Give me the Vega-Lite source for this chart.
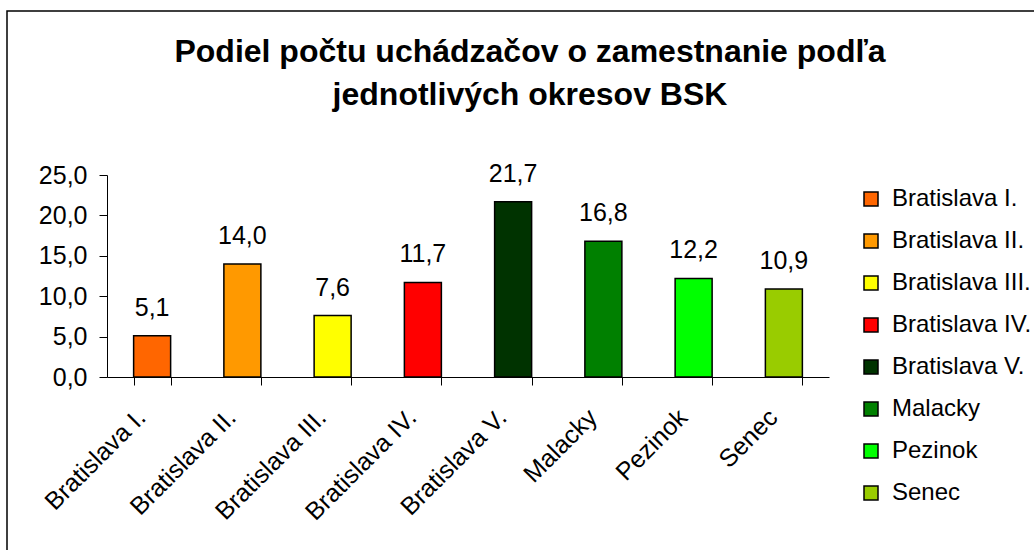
{
  "$schema": "https://vega.github.io/schema/vega-lite/v6.json",
  "width": 1046,
  "height": 545,
  "autosize": {"type": "none"},
  "padding": {"left": 7, "top": 11, "right": 0, "bottom": 0},
  "background": "white",
  "title": {
    "text": ["Podiel počtu uchádzačov o zamestnanie podľa", "jednotlivých okresov BSK"],
    "font": "Liberation Sans",
    "fontWeight": "bold",
    "fontSize": 32,
    "lineHeight": 43,
    "anchor": "middle",
    "frame": "group",
    "offset": -101,
    "color": "black"
  },
  "data": {
    "values": [
      {"okres": "Bratislava I.", "podiel": 5.1},
      {"okres": "Bratislava II.", "podiel": 14.0},
      {"okres": "Bratislava III.", "podiel": 7.6},
      {"okres": "Bratislava IV.", "podiel": 11.7},
      {"okres": "Bratislava V.", "podiel": 21.7},
      {"okres": "Malacky", "podiel": 16.8},
      {"okres": "Pezinok", "podiel": 12.2},
      {"okres": "Senec", "podiel": 10.9}
    ]
  },
  "encoding": {
    "x": {
      "field": "okres",
      "type": "nominal",
      "sort": null,
      "scale": {"range": [100, 822], "paddingInner": 0.59, "paddingOuter": 0.295},
      "axis": {
        "title": null,
        "labelAngle": -45,
        "labelAlign": "right",
        "labelBaseline": "middle",
        "labelFont": "Liberation Sans",
        "labelFontSize": 25,
        "labelColor": "black",
        "tickBand": "extent",
        "tickSize": 8,
        "tickColor": "black",
        "domainColor": "black",
        "labelPadding": 28,
        "labelOffset": -11,
        "offset": -179,
        "grid": false,
        "labelOverlap": false,
        "labelBound": false,
        "labelLimit": 400
      }
    }
  },
  "layer": [
    {
      "mark": {"type": "bar", "stroke": "black", "strokeWidth": 1.5},
      "encoding": {
        "y": {
          "field": "podiel",
          "type": "quantitative",
          "scale": {"domain": [0, 25], "range": [366, 164], "nice": false},
          "axis": {
            "title": null,
            "values": [0, 5, 10, 15, 20, 25],
            "format": ".1f",
            "tickSize": 8,
            "labelPadding": 12,
            "labelFont": "Liberation Sans",
            "labelFontSize": 25,
            "labelColor": "black",
            "tickColor": "black",
            "domainColor": "black",
            "offset": -100,
            "grid": false
          }
        },
        "color": {
          "field": "okres",
          "type": "nominal",
          "sort": null,
          "scale": {
            "domain": ["Bratislava I.", "Bratislava II.", "Bratislava III.", "Bratislava IV.", "Bratislava V.", "Malacky", "Pezinok", "Senec"],
            "range": ["#FF6600", "#FF9900", "#FFFF00", "#FF0000", "#003300", "#008000", "#00FF00", "#99CC00"]
          },
          "legend": {
            "title": null,
            "orient": "none",
            "legendX": 852,
            "legendY": 176,
            "symbolType": "square",
            "symbolSize": 196,
            "symbolStrokeColor": "black",
            "symbolStrokeWidth": 1.5,
            "labelFont": "Liberation Sans",
            "labelFontSize": 24,
            "labelColor": "black",
            "rowPadding": 18,
            "labelOffset": 9,
            "padding": 0,
            "labelLimit": 300
          }
        }
      }
    },
    {
      "mark": {"type": "text", "dy": -20, "baseline": "alphabetic", "font": "Liberation Sans", "fontSize": 25, "color": "black"},
      "encoding": {
        "y": {"field": "podiel", "type": "quantitative"},
        "text": {"field": "podiel", "type": "quantitative", "format": ".1f"}
      }
    }
  ],
  "config": {
    "locale": {"number": {"decimal": ",", "thousands": "\u00a0", "grouping": [3], "currency": ["", " €"]}},
    "view": {"stroke": "black", "strokeWidth": 1.5},
    "axis": {"domainWidth": 1, "tickWidth": 1}
  }
}
